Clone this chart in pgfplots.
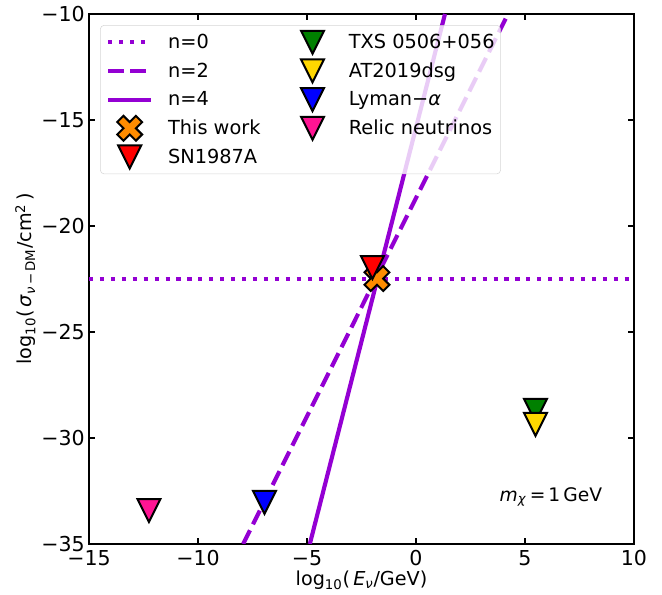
\documentclass[border=0pt]{standalone}
\usepackage{fontspec}
\setmainfont{DejaVu Sans}
\usepackage{pgfplots}
\pgfplotsset{compat=1.18}
\definecolor{dviolet}{HTML}{9400D3}
\definecolor{dorange}{HTML}{FF8C00}
\definecolor{dpink}{HTML}{FF1493}
\definecolor{mgreen}{HTML}{008000}
\definecolor{mgold}{HTML}{FFD700}
\definecolor{mblue}{HTML}{0000FF}
\definecolor{mred}{HTML}{FF0000}

\pgfdeclareplotmark{tridown}{%
  \pgfpathmoveto{\pgfqpoint{0pt}{-\pgfplotmarksize}}%
  \pgfpathlineto{\pgfqpoint{-\pgfplotmarksize}{\pgfplotmarksize}}%
  \pgfpathlineto{\pgfqpoint{\pgfplotmarksize}{\pgfplotmarksize}}%
  \pgfpathclose
  \pgfusepathqfillstroke}
\pgfdeclareplotmark{Xfill}{%
  \pgftransformrotate{45}%
  \pgfpathmoveto{\pgfqpoint{3.3pt}{3.3pt}}%
  \pgfpathlineto{\pgfqpoint{3.3pt}{9.9pt}}%
  \pgfpathlineto{\pgfqpoint{-3.3pt}{9.9pt}}%
  \pgfpathlineto{\pgfqpoint{-3.3pt}{3.3pt}}%
  \pgfpathlineto{\pgfqpoint{-9.9pt}{3.3pt}}%
  \pgfpathlineto{\pgfqpoint{-9.9pt}{-3.3pt}}%
  \pgfpathlineto{\pgfqpoint{-3.3pt}{-3.3pt}}%
  \pgfpathlineto{\pgfqpoint{-3.3pt}{-9.9pt}}%
  \pgfpathlineto{\pgfqpoint{3.3pt}{-9.9pt}}%
  \pgfpathlineto{\pgfqpoint{3.3pt}{-3.3pt}}%
  \pgfpathlineto{\pgfqpoint{9.9pt}{-3.3pt}}%
  \pgfpathlineto{\pgfqpoint{9.9pt}{3.3pt}}%
  \pgfpathclose
  \pgfusepathqfillstroke}

\pgfplotsset{
  lineleg/.style={legend image code/.code={%
    \path[draw=none, fill=none] (0pt,-10pt) rectangle (32pt,10pt);
    \draw[##1, sharp corners, draw opacity=1] (0pt,0pt) -- (32pt,0pt);}},
  markleg/.style={legend image code/.code={%
    \path[draw=none, fill=none] (0pt,-10pt) rectangle (32pt,10pt);
    \draw[##1, sharp corners, fill opacity=1, draw opacity=1] plot coordinates {(16pt,0pt)};}},
  mk/.style={only marks, draw=black, line width=1.5pt, line join=miter, markleg},
  ln/.style={dviolet, line width=3.1pt, lineleg},
}

\begin{document}
\begin{tikzpicture}
\useasboundingbox (-66.75pt,-38.25pt) rectangle (429.75pt,408pt);
\begin{axis}[
  at={(0pt,0pt)}, anchor=south west,
  scale only axis, width=408.75pt, height=397.5pt,
  xmin=-15, xmax=10, ymin=-35, ymax=-10,
  xtick={-15,-10,-5,0,5,10},
  xticklabels={−15,−10,−5,0,5,10},
  ytick={-35,-30,-25,-20,-15,-10},
  yticklabels={−35,−30,−25,−20,−15,−10},
  tick align=inside, xtick pos=both, ytick pos=both,
  major tick length=4.5pt,
  every tick/.style={black, line width=1pt},
  axis line style={black, line width=1pt},
  ticklabel style={font=\fontsize{15.4}{18}\selectfont},
  xticklabel style={inner sep=0pt, yshift=-4.5pt},
  yticklabel style={inner sep=0pt, xshift=-3pt},
  xlabel={log\textsubscript{10}(\,\textit{E}\textsubscript{\textit{ν}}/GeV)},
  ylabel={log\textsubscript{10}(\,\textit{σ}\textsubscript{\textit{ν}\,−\,DM}/cm\textsuperscript{2}\,)},
  label style={font=\fontsize{14.4}{17}\selectfont},
  xlabel style={at={(axis description cs:0.5,0)}, anchor=base, yshift=-31.5pt},
  ylabel style={at={([xshift=-42.75pt]axis description cs:0,0.5)}, anchor=base},
  legend columns=2,
  legend cell align=left,
  legend style={
    at={(0.0202,0.9792)}, anchor=north west,
    font=\fontsize{14.5}{17}\selectfont,
    draw=black!20, fill=white, fill opacity=0.8, draw opacity=0.8, text opacity=1,
    rounded corners=3pt,
    inner xsep=4.5pt, inner ysep=2.75pt,
    nodes={inner sep=0pt},
    row sep=1.5pt,
    /tikz/every odd column/.append style={column sep=11.25pt},
    /tikz/every even column/.append style={column sep=23pt},
  },
]
\addplot[ln, dash pattern=on 3.1pt off 5.1pt] coordinates {(-15,-22.5) (10,-22.5)};
\addlegendentry{n=0}
\addplot[mk, mark=tridown, mark size=8.6pt, fill=mgreen] coordinates {(5.48,-28.70)};
\addlegendentry{TXS 0506+056}
\addplot[ln, dash pattern=on 11.5pt off 5pt] coordinates {(-7.93,-35) (4.22,-10)};
\addlegendentry{n=2}
\addplot[mk, mark=tridown, mark size=8.6pt, fill=mgold] coordinates {(5.48,-29.36)};
\addlegendentry{AT2019dsg}
\addplot[ln] coordinates {(-4.87,-35) (1.33,-10)};
\addlegendentry{n=4}
\addplot[mk, mark=tridown, mark size=8.6pt, fill=mblue] coordinates {(-6.95,-33.04)};
\addlegendentry{Lyman−\textit{α}}
\addplot[mk, mark=Xfill, fill=dorange] coordinates {(-1.79,-22.48)};
\addlegendentry{This work}
\addplot[mk, mark=tridown, mark size=8.6pt, fill=dpink] coordinates {(-12.25,-33.42)};
\addlegendentry{Relic neutrinos}
\addplot[mk, mark=tridown, mark size=8.6pt, fill=mred] coordinates {(-2.0,-21.96)};
\addlegendentry{SN1987A}
\node[font=\fontsize{14}{17}\selectfont] at (axis cs:6.19,-32.78) {\textit{m}\textsubscript{\textit{χ}}\,=\,1\,GeV};
\end{axis}
\end{tikzpicture}
\end{document}
